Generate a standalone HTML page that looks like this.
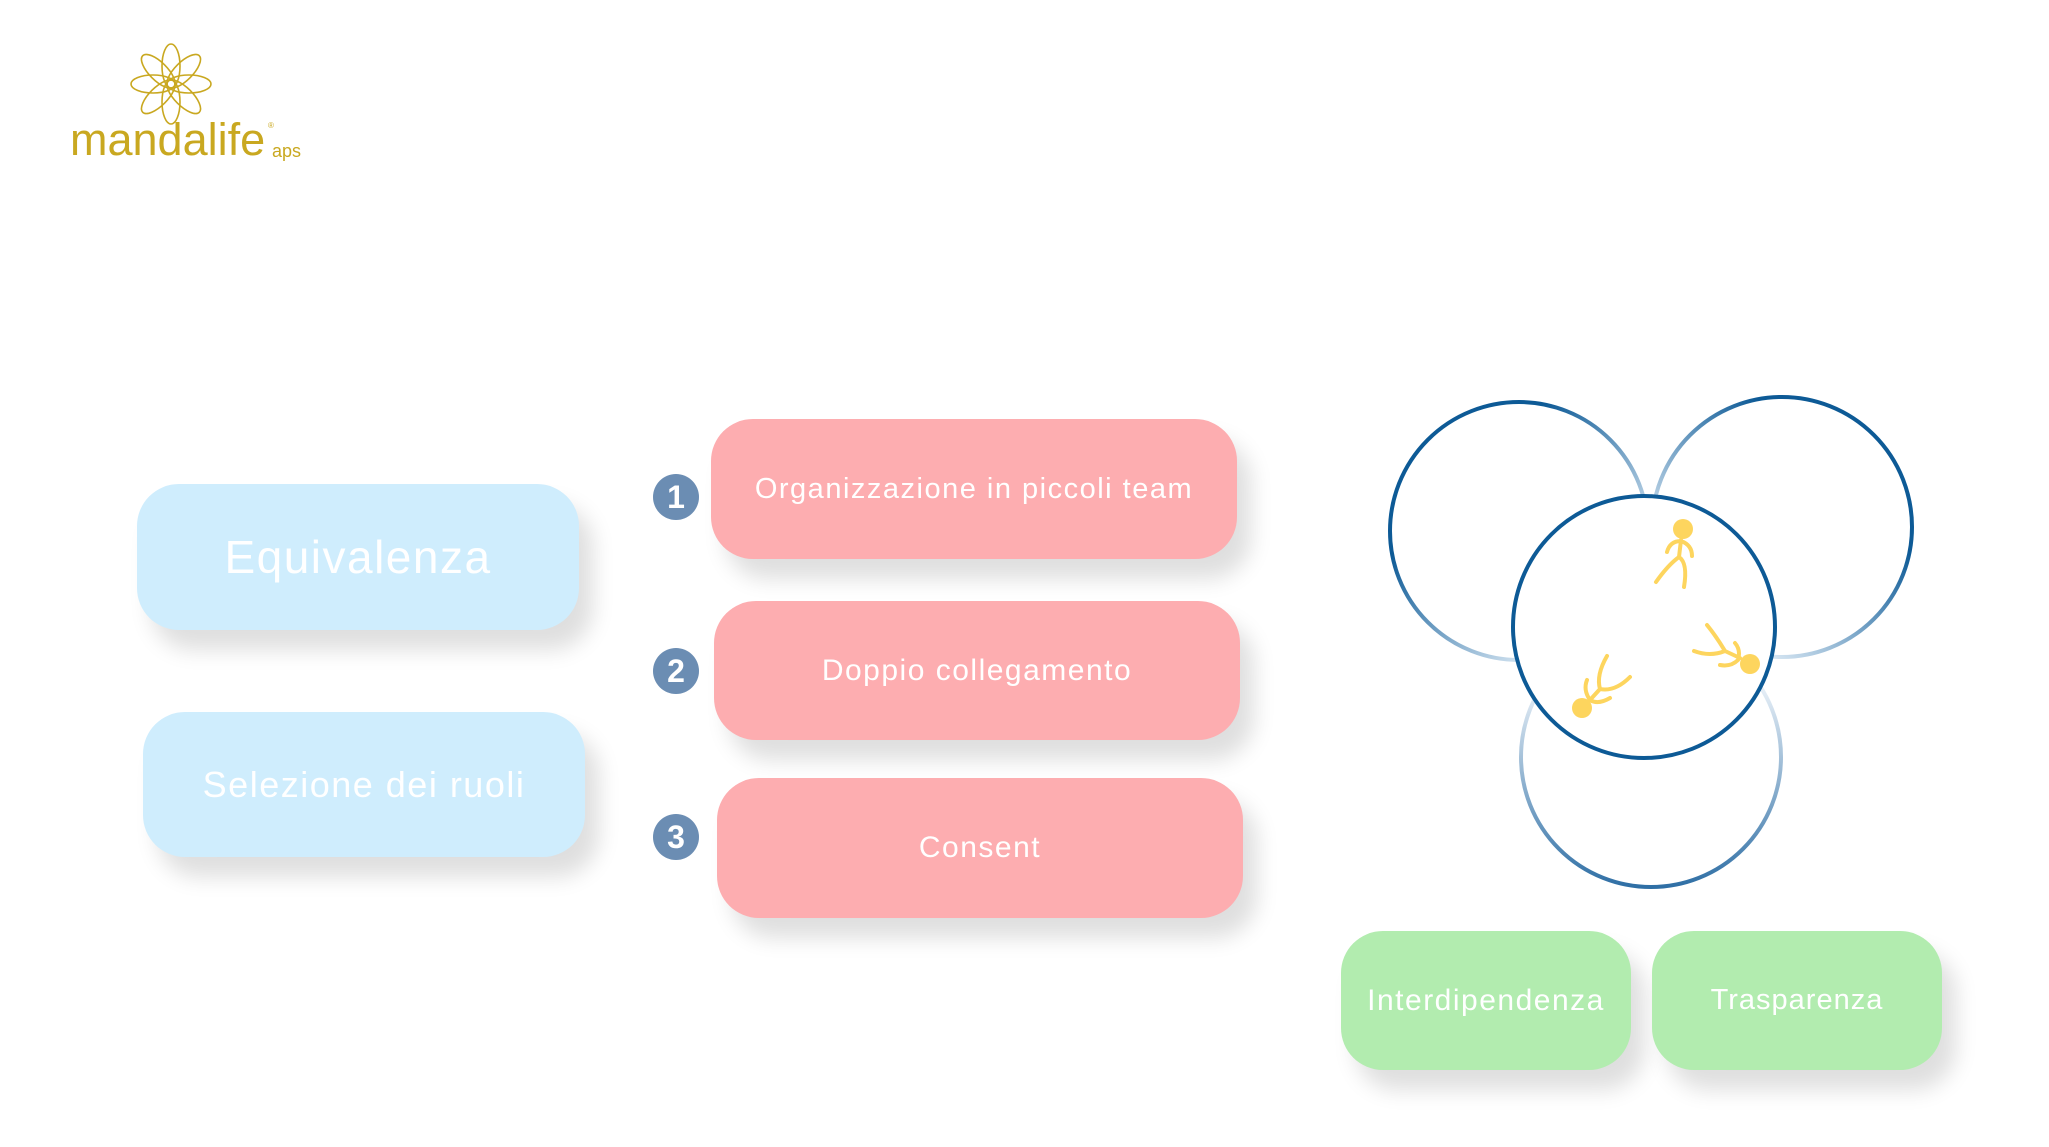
<!DOCTYPE html>
<html><head><meta charset="utf-8"><style>
body{margin:0;width:2049px;height:1147px;background:#fff;position:relative;overflow:hidden;font-family:"Liberation Sans",sans-serif}
.b{position:absolute;border-radius:42px;color:#fff;display:flex;align-items:center;justify-content:center;letter-spacing:1.5px;box-shadow:14px 20px 22px rgba(0,0,0,0.13)}
.blue{background:#cfedfd}.pink{background:#fdadb0}.green{background:#b2ecaf}
.n{position:absolute;width:46px;height:46px;border-radius:50%;background:#6b8db3;color:#fff;font-weight:bold;font-size:32px;display:flex;align-items:center;justify-content:center}
</style></head><body>
<svg style="position:absolute;left:0;top:0" width="2049" height="1147">
<defs>
<linearGradient id="gl" x1="0" y1="0" x2="1" y2="1"><stop offset="0.3" stop-color="#0d5a96"/><stop offset="0.8" stop-color="#e2eef8"/></linearGradient>
<linearGradient id="gr" x1="1" y1="0" x2="0" y2="1"><stop offset="0.3" stop-color="#0d5a96"/><stop offset="0.8" stop-color="#e2eef8"/></linearGradient>
<linearGradient id="gb" x1="0" y1="0" x2="0" y2="1"><stop offset="0.2" stop-color="#eef4fa"/><stop offset="1" stop-color="#2f6fa5"/></linearGradient>
</defs>
<g fill="none" stroke-width="4">
<circle cx="1519" cy="531" r="129" stroke="url(#gl)"/>
<circle cx="1782" cy="527" r="130" stroke="url(#gr)"/>
<circle cx="1651" cy="757" r="130" stroke="url(#gb)"/>
<circle cx="1644" cy="627" r="131" stroke="#0d5a96" fill="#fff"/>
</g>
<g stroke="#fdd55e" stroke-width="4" fill="none" stroke-linecap="round">
<circle cx="1683" cy="529" r="10" fill="#fdd55e" stroke="none"/>
<path d="M1681 540 L1679 557 M1667 552 Q1670 541 1681 541 Q1692 545 1692 556 M1679 557 Q1668 565 1656 582 M1679 557 Q1688 563 1684 587"/>
<circle cx="1750" cy="664" r="10" fill="#fdd55e" stroke="none"/>
<path d="M1740 658 L1725 651 M1735 643 Q1741 650 1738 660 Q1731 667 1720 665 M1725 651 Q1716 636 1707 625 M1725 651 Q1710 657 1694 651"/>
<circle cx="1582" cy="708" r="10" fill="#fdd55e" stroke="none"/>
<path d="M1590 700 L1600 689 M1587 680 Q1583 690 1590 700 Q1598 705 1610 698 M1600 689 Q1596 675 1607 656 M1600 689 Q1615 692 1630 677"/>
</g>
<g stroke="#c9a820" stroke-width="1.6" fill="none">
<ellipse cx="171" cy="66" rx="9" ry="22"/>
<ellipse cx="171" cy="66" rx="9" ry="22" transform="rotate(45 171 84)"/>
<ellipse cx="171" cy="66" rx="9" ry="22" transform="rotate(-45 171 84)"/>
<ellipse cx="171" cy="66" rx="9" ry="22" transform="rotate(90 171 84)"/>
<ellipse cx="171" cy="66" rx="9" ry="22" transform="rotate(-90 171 84)"/>
<ellipse cx="171" cy="66" rx="9" ry="22" transform="rotate(135 171 84)"/>
<ellipse cx="171" cy="66" rx="9" ry="22" transform="rotate(-135 171 84)"/>
<ellipse cx="171" cy="66" rx="9" ry="22" transform="rotate(180 171 84)"/>
</g>
<text x="70" y="155" font-family="Liberation Sans" font-size="45" fill="#c9a820" letter-spacing="0">mandalife</text>
<text x="268" y="128" font-family="Liberation Sans" font-size="8" fill="#c9a820">®</text>
<text x="272" y="157" font-family="Liberation Sans" font-size="18" fill="#c9a820">aps</text>
</svg>
<div class="b blue" style="left:137px;top:484px;width:442px;height:146px;font-size:46px">Equivalenza</div>
<div class="b blue" style="left:143px;top:712px;width:442px;height:145px;font-size:36px">Selezione dei ruoli</div>
<div class="b pink" style="left:711px;top:419px;width:526px;height:140px;font-size:29px">Organizzazione in piccoli team</div>
<div class="b pink" style="left:714px;top:601px;width:526px;height:139px;font-size:30px">Doppio collegamento</div>
<div class="b pink" style="left:717px;top:778px;width:526px;height:140px;font-size:30px">Consent</div>
<div class="n" style="left:653px;top:474px">1</div>
<div class="n" style="left:653px;top:648px">2</div>
<div class="n" style="left:653px;top:814px">3</div>
<div class="b green" style="left:1341px;top:931px;width:290px;height:139px;font-size:30px">Interdipendenza</div>
<div class="b green" style="left:1652px;top:931px;width:290px;height:139px;font-size:29px;letter-spacing:1px">Trasparenza</div>
</body></html>
